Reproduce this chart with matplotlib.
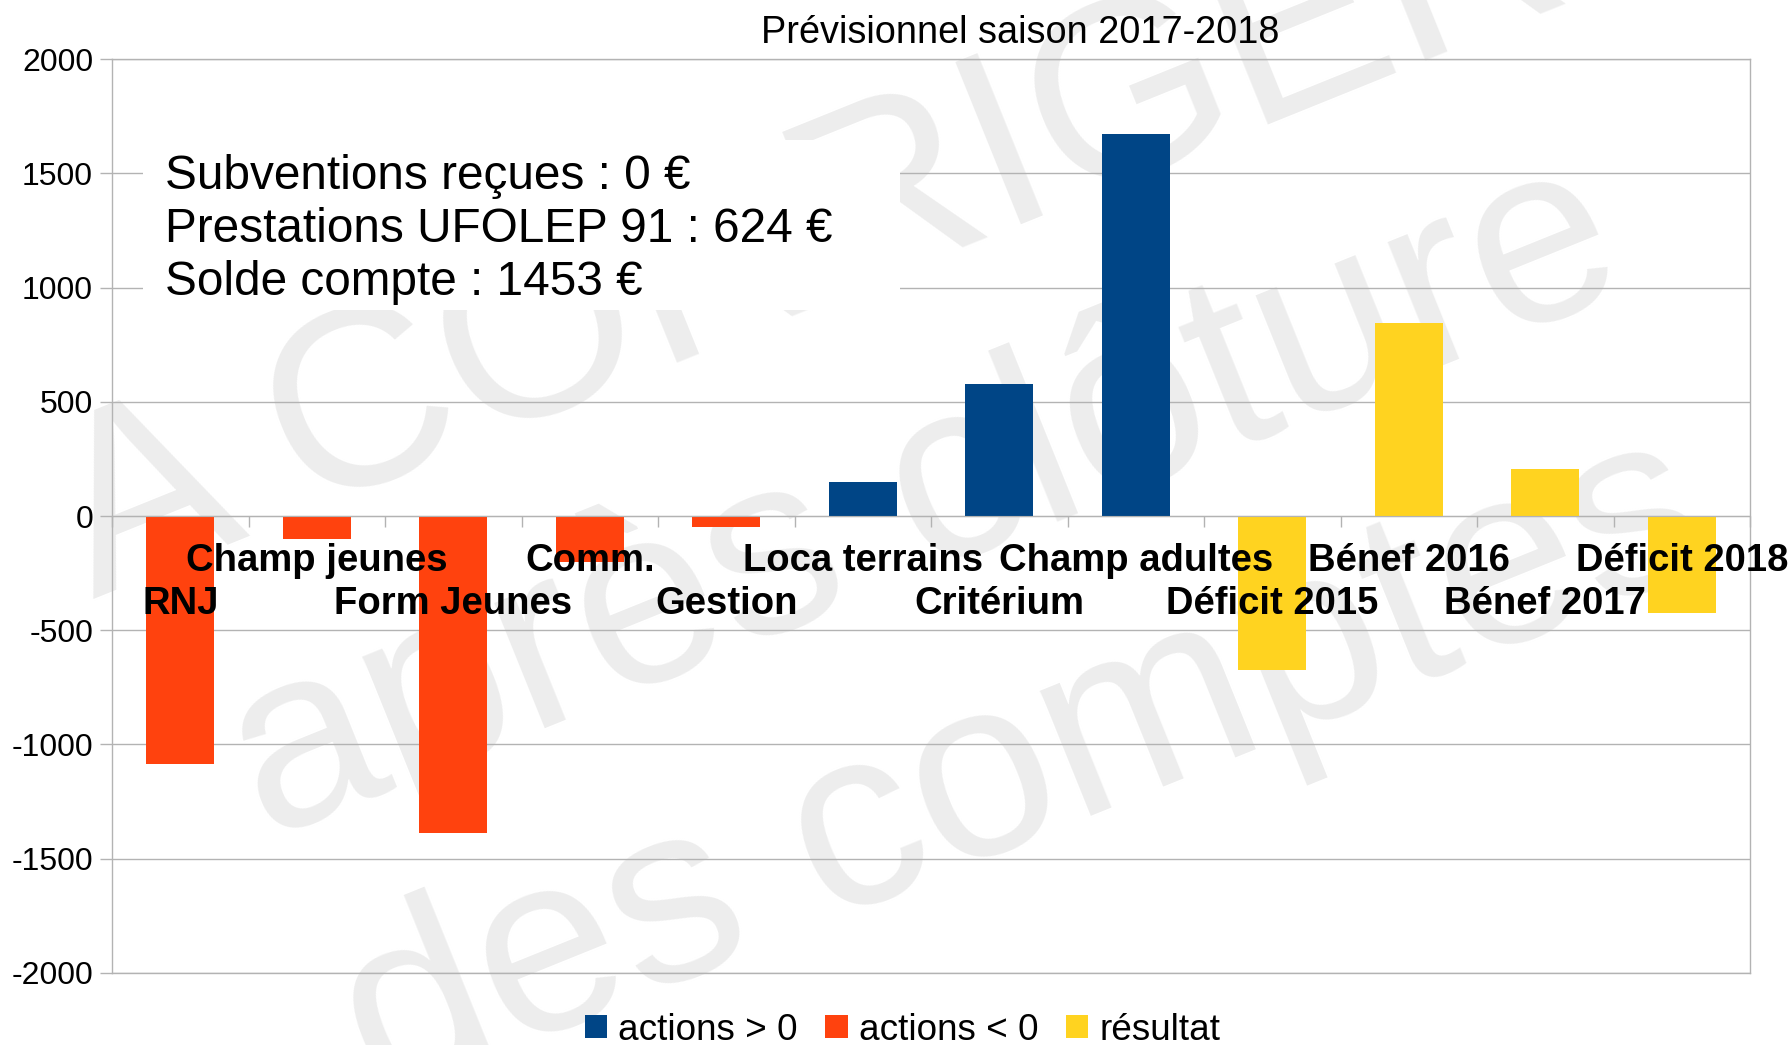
import matplotlib
matplotlib.use('Agg')
import matplotlib.pyplot as plt
from matplotlib.patches import Patch, Rectangle
import numpy as np

plt.rcParams['font.family'] = ['Liberation Sans', 'DejaVu Sans']

# ---------------- data ----------------
categories = ['RNJ', 'Champ jeunes', 'Form Jeunes', 'Comm.', 'Gestion',
              'Loca terrains', 'Critérium', 'Champ adultes', 'Déficit 2015',
              'Bénef 2016', 'Bénef 2017', 'Déficit 2018']
actions_pos = [0, 0, 0, 0, 0, 150, 580, 1675, 0, 0, 0, 0]
actions_neg = [-1085, -100, -1390, -200, -50, 0, 0, 0, 0, 0, 0, 0]
resultat = [0, 0, 0, 0, 0, 0, 0, 0, -675, 845, 205, -425]
series_names = ['actions > 0', 'actions < 0', 'résultat']
series_colors = ['#004586', '#ff420e', '#ffd320']
yticks = [-2000, -1500, -1000, -500, 0, 500, 1000, 1500, 2000]
title = 'Prévisionnel saison 2017-2018'
info_lines = ['Subventions reçues : 0 €', 'Prestations UFOLEP 91 : 624 €',
              'Solde compte : 1453 €']
watermark_lines = ['A CORRIGER', 'après clôture', 'des comptes']

# ---------------- layout ----------------
W, H = 1792, 1045
fig = plt.figure(figsize=(W / 100, H / 100), dpi=100)
fig.patch.set_facecolor('white')

def fx(px):
    return px / W

def fy(py):
    return 1 - py / H

# watermark (behind everything), anchored at the baseline start of each line
wm_starts = [(93.5, 599), (265.7, 841.3), (378.3, 1103.9)]
for txt, (sx, sy) in zip(watermark_lines, wm_starts):
    fig.text(fx(sx), fy(sy), txt, fontsize=183.6, color='#ededed', rotation=22,
             rotation_mode='anchor', ha='left', va='baseline', zorder=-5)

ax = fig.add_axes([fx(112), fy(972.7), (1750 - 112) / W, (972.7 - 59.3) / H])
ax.set_facecolor('none')
ax.set_zorder(0)

x = np.arange(len(categories))
for vals, col, name in zip([actions_pos, actions_neg, resultat], series_colors, series_names):
    ax.bar(x, vals, width=0.5, color=col, label=name, zorder=2)

ax.set_xlim(-0.5, len(categories) - 0.5)
ax.set_ylim(-2000, 2000)
ax.set_yticks(yticks)
ax.set_yticklabels([str(v) for v in yticks])
ax.tick_params(axis='y', length=8.6, width=1, color='#b3b3b3', pad=5, labelsize=23)
ax.tick_params(axis='x', bottom=False, labelbottom=False)
ax.grid(axis='y', color='#b3b3b3', lw=1)
ax.set_axisbelow(True)
for s in ax.spines.values():
    s.set_color('#b3b3b3')
    s.set_linewidth(1)

# category axis at zero with staggered labels
secax = ax.secondary_xaxis(0.5)
secax.set_alignment('bottom')
secax.set_zorder(5)
labels = [c if i % 2 == 1 else '\n' + c for i, c in enumerate(categories)]
secax.set_xticks(x, labels=labels)
secax.set_xticks(np.arange(len(categories) + 1) - 0.5, minor=True)
secax.tick_params(axis='x', which='major', length=0, pad=19.7, labelsize=27.5)
secax.tick_params(axis='x', which='minor', length=8, width=1, color='#b3b3b3',
                  direction='out')
for lbl in secax.get_xticklabels():
    lbl.set_fontweight('bold')
    lbl.set_linespacing(1.25)
for s in secax.spines.values():
    s.set_color('#b3b3b3')

# title
fig.text(fx(1020), fy(43), title, fontsize=27.3, ha='center', va='baseline')

# info box
fig.add_artist(Rectangle((fx(143), fy(310)), (900 - 143) / W, (310 - 140) / H,
                         transform=fig.transFigure, fc='white', ec='none', zorder=1))
for i, line in enumerate(info_lines):
    fig.text(fx(165), fy(189 + 53 * i), line, fontsize=34.4, ha='left',
             va='baseline', zorder=2)

# legend
handles = [Patch(facecolor=c, edgecolor='none') for c in series_colors]
fig.legend(handles, series_names, loc='center', bbox_to_anchor=(fx(902.5), fy(1030)),
           ncol=3, frameon=False, fontsize=26.6, handlelength=0.6, handleheight=0.6,
           handletextpad=0.3, columnspacing=0.75, borderaxespad=0, borderpad=0)

fig.savefig('out.png', dpi=100, facecolor='white')
